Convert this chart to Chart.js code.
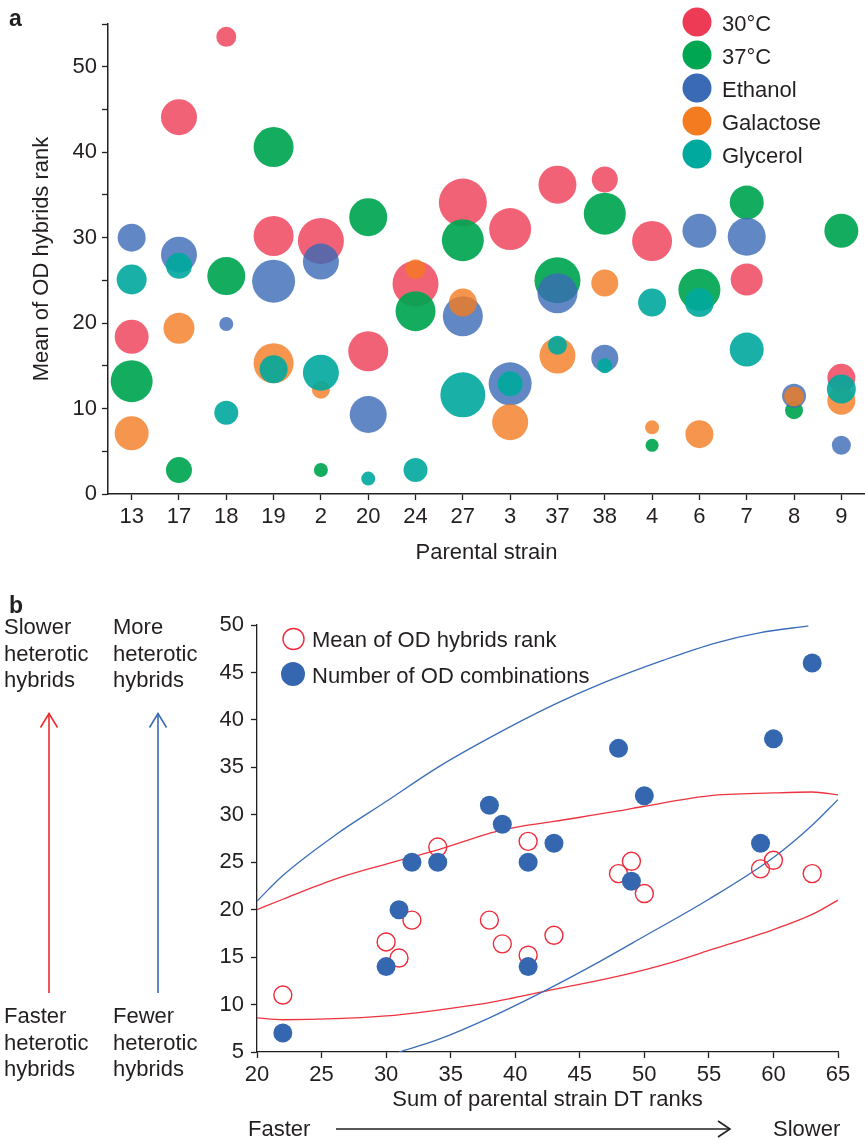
<!DOCTYPE html>
<html><head><meta charset="utf-8">
<script src="https://cdn.jsdelivr.net/npm/chart.js@4.4.1/dist/chart.umd.min.js"></script>
<style>
html,body{margin:0;padding:0;background:#fff;}
body{width:865px;height:1140px;position:relative;overflow:hidden;font-family:'Liberation Sans',Arial,sans-serif;color:#231F20;}
#wa{position:absolute;left:0;top:0;width:865px;height:575px;}
#wb{position:absolute;left:0;top:590px;width:865px;height:550px;}
.lbl{position:absolute;font-weight:bold;font-size:23px;line-height:23px;}
.note{position:absolute;font-size:22px;line-height:26.5px;white-space:nowrap;}
svg{position:absolute;left:0;top:0;}
</style></head><body>
<div id="wa"><canvas id="ca" width="865" height="575"></canvas></div>
<div id="wb"><canvas id="cb" width="865" height="550"></canvas></div>
<div class="lbl" style="left:9px;top:7px">a</div>
<div class="lbl" style="left:9px;top:594px">b</div>
<div class="note" style="left:4px;top:614px">Slower<br>heterotic<br>hybrids</div>
<div class="note" style="left:113px;top:614px">More<br>heterotic<br>hybrids</div>
<div class="note" style="left:4px;top:1003px">Faster<br>heterotic<br>hybrids</div>
<div class="note" style="left:113px;top:1003px">Fewer<br>heterotic<br>hybrids</div>
<div class="note" style="left:248px;top:1116px">Faster</div>
<div class="note" style="left:773px;top:1116px">Slower</div>
<svg width="865" height="1140">
  <g fill="none" stroke-width="1.6">
    <line x1="49" y1="713" x2="49" y2="993" stroke="#EE2A2F"/>
    <polyline points="40.5,727.5 49,713.5 57.5,727.5" stroke="#EE2A2F"/>
    <line x1="158" y1="713" x2="158" y2="993" stroke="#3A6AB5"/>
    <polyline points="149.5,727.5 158,713.5 166.5,727.5" stroke="#3A6AB5"/>
    <line x1="336" y1="1129" x2="729" y2="1129" stroke="#231F20"/>
    <polyline points="718,1121 730,1129 718,1137" stroke="#231F20"/>
  </g>
</svg>
<script>
// ---------- Panel a data ----------
const strains = ['13','17','18','19','2','20','24','27','3','37','38','4','6','7','8','9'];
const seriesNames = ['30°C','37°C','Ethanol','Galactose','Glycerol'];
const val30  = [18.4, 44.1, 53.5, 30.2, 29.6, 16.7, 24.6, 34.1, 31.0, 36.2, 36.8, 29.6, null, 25.1, null, 13.6];
const size30 = [17, 18, 10, 20, 23, 20, 23, 24, 21, 19, 13, 20, null, 16, null, 14];
const val37  = [13.2, 2.8, 25.5, 40.6, 2.8, 32.4, 21.4, 29.7, null, 25.0, 32.8, 5.7, 23.9, 34.1, 9.8, 30.8];
const size37 = [21, 13, 19, 20, 7, 19, 20, 21, null, 23, 21, 6.5, 21, 17, 9, 17];
const valEth  = [30.0, 28.0, 19.9, 24.9, 27.2, 9.3, null, 20.8, 12.9, 23.5, 15.9, null, 30.8, 30.1, 11.5, 5.7];
const sizeEth = [14, 18, 7, 21.5, 18, 18.5, null, 20, 21.5, 20, 13.5, null, 17, 19, 12, 9.5];
const valGal  = [7.1, 19.4, null, 15.3, 12.2, null, 26.3, 22.4, 8.4, 16.2, 24.7, 7.8, 7.0, null, 11.4, 10.9];
const sizeGal = [17, 15.5, null, 20, 9, null, 10, 14, 18, 18, 13.5, 7, 14, null, 10, 14];
const valGly  = [25.1, 26.7, 9.5, 14.6, 14.2, 1.8, 2.8, 11.6, 12.9, 17.4, 15.0, 22.4, 22.4, 16.9, null, 12.3];
const sizeGly = [15, 13, 12, 14, 18, 7, 12, 22.5, 12.5, 9.5, 7.5, 14, 14.5, 17, null, 14.5];

// ---------- Panel b data ----------
const dtRankSum   = [22, 30, 31, 32, 34, 38, 39, 41, 41, 43, 48, 49, 50, 59, 60, 63];
const meanODRank  = [11, 16.6, 14.9, 18.9, 26.6, 18.9, 16.4, 27.2, 15.2, 17.3, 23.8, 25.1, 21.7, 24.3, 25.2, 23.8];
const numODCombos = [7, 14, 20, 25, 25, 31, 29, 25, 14, 27, 37, 23, 32, 27, 38, 46];
const blueUpperX = [20, 22, 26, 30, 34, 38, 43, 47, 51.5, 55.5, 59, 62.7];
const blueUpperY = [20.9, 23.6, 27.8, 31.4, 35.0, 38.1, 41.6, 44.0, 46.3, 48.1, 49.2, 49.9];
const redUpperX = [20, 22, 26, 30, 34, 39, 43, 48, 50, 55, 60, 63, 65];
const redUpperY = [20, 21.1, 23.2, 24.8, 26.3, 28.4, 29.3, 30.4, 30.9, 32.0, 32.3, 32.4, 32.1];
const redLowerX = [20, 22, 30, 35, 38, 43, 48, 52, 55, 60, 63, 65];
const redLowerY = [8.6, 8.4, 8.8, 9.6, 10.2, 11.6, 13.0, 14.4, 15.7, 17.9, 19.5, 21.0];
const blueLowerX = [31, 34, 38, 42.5, 46.5, 50, 55, 60, 63, 65];
const blueLowerY = [5, 6.3, 8.6, 11.6, 14.5, 17.2, 21.1, 25.5, 28.9, 31.6];

const INK = '#231F20';
const FONT = "'Liberation Sans', Arial, sans-serif";
Chart.defaults.font.family = FONT;
Chart.defaults.color = INK;

function bubbles(vals, sizes){
  const out = [];
  strains.forEach((s,i)=>{ if (vals[i] != null) out.push({x:s, y:vals[i], r:sizes[i]}); });
  return out;
}
function pts(xs, ys){ return xs.map((x,i)=>({x:x, y:ys[i]})); }

const solid = ['#EE3B55','#00A651','#3A6AB5','#F47B20','#00A99D'];
const fills = ['rgba(238,59,85,0.8)','rgba(0,166,81,0.92)','rgba(58,106,181,0.8)','rgba(244,123,32,0.8)','rgba(0,169,157,0.9)'];
const valsA = [val30, val37, valEth, valGal, valGly];
const sizesA = [size30, size37, sizeEth, sizeGal, sizeGly];

const legendA = {
  id:'legendA',
  afterDraw(chart){
    const ctx = chart.ctx;
    ctx.save();
    chart.data.datasets.forEach((ds,i)=>{
      const cy = 22 + i*33;
      ctx.beginPath(); ctx.arc(697, cy, 14.5, 0, Math.PI*2);
      ctx.fillStyle = solid[i]; ctx.fill();
      ctx.fillStyle = INK; ctx.font = '22px ' + FONT;
      ctx.textBaseline = 'alphabetic'; ctx.textAlign = 'left';
      ctx.fillText(ds.label, 722, cy + 8.5);
    });
    ctx.restore();
  }
};

const axisCommon = {
  grid:{display:true, drawOnChartArea:false, tickLength:6, color:INK, tickColor:INK, tickWidth:1.3},
  border:{display:true, color:INK, width:1.5}
};

new Chart(document.getElementById('ca'), {
  type:'bubble',
  data:{ datasets: seriesNames.map((n,i)=>({
    label:n, data:bubbles(valsA[i], sizesA[i]), backgroundColor:fills[i],
    borderWidth:0, hoverBorderWidth:0, order:5-i, clip:40
  }))},
  options:{
    responsive:false, animation:false, devicePixelRatio:1,
    layout:{autoPadding:false, padding:{top:24,right:0,left:0,bottom:0}},
    plugins:{legend:{display:false}, tooltip:{enabled:false}},
    scales:{
      x:{ type:'category', labels:strains, offset:true,
          grid:Object.assign({}, axisCommon.grid, {offset:false}), border:axisCommon.border,
          ticks:{font:{size:22}, color:INK, padding:4, autoSkip:false, maxRotation:0},
          title:{display:true, text:'Parental strain', font:{size:22, lineHeight:1.2}, color:INK, padding:{top:0,bottom:9}},
          afterFit:s=>{ s.height = 81; s.paddingLeft = 0; s.paddingRight = 0; } },
      y:{ min:0, max:55,
          grid:axisCommon.grid, border:axisCommon.border,
          ticks:{stepSize:5, font:{size:22}, color:INK, padding:5, autoSkip:false,
                 callback:v=> (v % 10 === 0 ? String(v) : '')},
          title:{display:true, text:'Mean of OD hybrids rank', font:{size:22, lineHeight:1.2}, color:INK, padding:{top:29,bottom:0}},
          afterFit:s=>{ s.width = 108; s.paddingTop = 0; s.paddingBottom = 0; } }
    }
  },
  plugins:[legendA]
});

const legendB = {
  id:'legendB',
  afterDraw(chart){
    const ctx = chart.ctx;
    ctx.save();
    const ds = chart.data.datasets;
    ctx.beginPath(); ctx.arc(293.5, 49, 10.5, 0, Math.PI*2);
    ctx.strokeStyle = '#EE2A3B'; ctx.lineWidth = 1.4; ctx.stroke();
    ctx.beginPath(); ctx.arc(293, 84, 12, 0, Math.PI*2);
    ctx.fillStyle = '#3567B0'; ctx.fill();
    ctx.fillStyle = INK; ctx.font = '22px ' + FONT;
    ctx.textBaseline = 'alphabetic'; ctx.textAlign = 'left';
    ctx.fillText(ds[0].label, 312, 56.7);
    ctx.fillText(ds[1].label, 312, 92.7);
    ctx.restore();
  }
};

function curve(label, xs, ys, color){
  return {label, data:pts(xs, ys), showLine:true, borderColor:color, borderWidth:1.3,
          pointRadius:0, pointHoverRadius:0, tension:0.4, cubicInterpolationMode:'monotone', fill:false, order:3, clip:0};
}

new Chart(document.getElementById('cb'), {
  type:'scatter',
  data:{ datasets:[
    {label:'Mean of OD hybrids rank', data:pts(dtRankSum, meanODRank), pointRadius:9, pointHoverRadius:9,
     pointBorderColor:'#EE2A3B', pointBackgroundColor:'rgba(255,255,255,0)', pointBorderWidth:1.4, order:2, clip:15},
    {label:'Number of OD combinations', data:pts(dtRankSum, numODCombos), pointRadius:9.5, pointHoverRadius:9.5,
     pointBorderWidth:0, pointBackgroundColor:'#3567B0', order:1, clip:15},
    curve('Upper limit, number of combinations', blueUpperX, blueUpperY, '#3A6DB8'),
    curve('Lower limit, number of combinations', blueLowerX, blueLowerY, '#3A6DB8'),
    curve('Upper limit, mean rank', redUpperX, redUpperY, '#EE3340'),
    curve('Lower limit, mean rank', redLowerX, redLowerY, '#EE3340')
  ]},
  options:{
    responsive:false, animation:false, devicePixelRatio:1,
    layout:{autoPadding:false, padding:{top:35,right:27,left:0,bottom:0}},
    plugins:{legend:{display:false}, tooltip:{enabled:false}},
    scales:{
      x:{ type:'linear', min:20, max:65,
          grid:axisCommon.grid, border:{display:true,color:INK,width:1.3},
          ticks:{stepSize:5, font:{size:22}, color:INK, padding:4, maxRotation:0},
          title:{display:true, text:'Sum of parental strain DT ranks', font:{size:22, lineHeight:1.2}, color:INK, padding:{top:0,bottom:27}},
          afterFit:s=>{ s.height = 88; } },
      y:{ min:5, max:50,
          grid:axisCommon.grid, border:{display:true,color:INK,width:1.3},
          ticks:{stepSize:5, font:{size:22}, color:INK, padding:7},
          afterFit:s=>{ s.width = 257; } }
    }
  },
  plugins:[legendB]
});
</script>
</body></html>
